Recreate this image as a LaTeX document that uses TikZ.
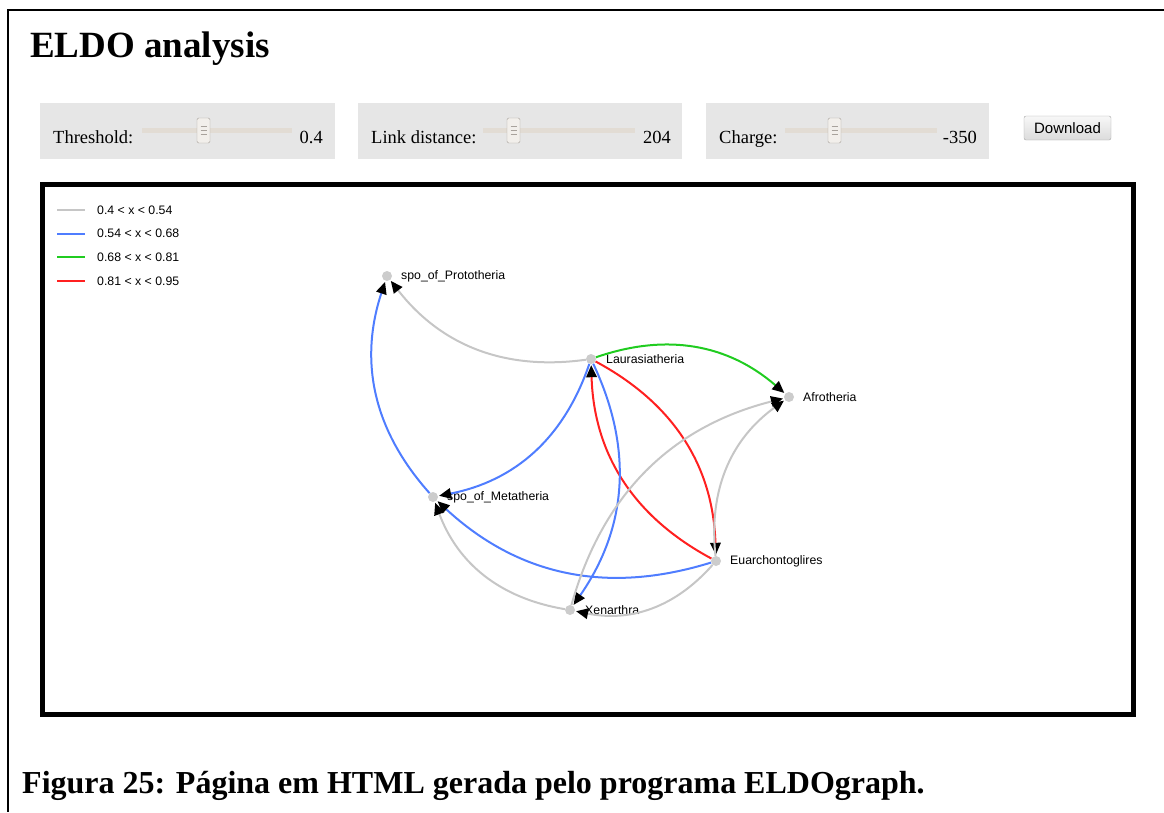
\documentclass[tikz,border=0pt]{standalone}
\usepackage{fontspec}
\setmainfont{Liberation Serif}
\newfontfamily\webfont{Liberation Sans}
\usetikzlibrary{arrows.meta}

\definecolor{lowgray}{HTML}{C6C6C6}
\definecolor{midblue}{HTML}{4F7DFF}
\definecolor{highgreen}{HTML}{20CC20}
\definecolor{topred}{HTML}{FF2020}
\definecolor{panelgray}{HTML}{E6E6E6}
\definecolor{trackbeige}{HTML}{E2DCD4}
\definecolor{thumbfill}{HTML}{F2EFEB}
\definecolor{thumbedge}{HTML}{A8A29C}
\definecolor{dotgray}{HTML}{CCCCCC}

\begin{document}
\begin{tikzpicture}[x=1pt,y=1pt,
    taxon/.style={circle,fill=dotgray,inner sep=0pt,minimum size=10pt},
    taxlabel/.style={anchor=west,inner sep=0pt,font=\webfont\fontsize{12.3}{14}\selectfont},
    relation/.style={line width=2pt,-{Triangle[length=12pt,width=10.5pt,color=black,fill=black]},shorten >=1pt,bend left=30}]
    \useasboundingbox (0,0) rectangle (1164,-812);

    % Page frame and heading:
    \draw [line width=2pt] (1164,-10) -- (8,-10) -- (8,-812);
    \node (title) [anchor=base west,inner sep=0pt,font=\bfseries\fontsize{37}{40}\selectfont] at (30,-57) {ELDO analysis};

    % Sliders:
    % box left/right, label, track left/right, thumb centre, value, value right edge
    \foreach \bl/\br/\lab/\tl/\tr/\th/\val/\vr [count=\i] in {40/335/Threshold:/142/292/203.5/0.4/323, 358/682/Link distance:/483/635/513.5/204/671, 706/989/Charge:/785/937/834.5/-350/977}{%
        \fill [panelgray] (\bl,-103) rectangle (\br,-159);
        \fill [trackbeige] (\tl,-127.5) rectangle (\tr,-132.5);
        \draw [thumbedge, fill=thumbfill, rounded corners=1.5pt] (\th-6.5,-118) rectangle (\th+6.5,-143);
        \foreach \g in {-126.5,-130.5,-134.5}
            \draw [thumbedge, line width=0.8pt] (\th-3,\g) -- (\th+3,\g);
        \node (lab\i) [anchor=base west,inner sep=0pt,font=\fontsize{18.5}{20}\selectfont] at (\bl+13,-143) {\lab};
        \node (val\i) [anchor=base east,inner sep=0pt,font=\fontsize{18.5}{20}\selectfont] at (\vr,-143) {\val};
    }
    \node (download) [draw=gray!70, rounded corners=2pt, top color=white!97!black, bottom color=white!86!black,
        minimum width=87pt, minimum height=24pt, inner sep=0pt, font=\webfont\fontsize{15}{17}\selectfont] at (1067.5,-128) {Download};

    % Graph area:
    \draw [line width=5pt] (42.5,-184.5) rectangle (1133.5,-714.5);

    % Legend:
    \foreach \col/\txt [count=\i] in {lowgray/0.4 < x < 0.54, midblue/0.54 < x < 0.68, highgreen/0.68 < x < 0.81, topred/0.81 < x < 0.95}{%
        \draw [\col, line width=2pt] (57,-186.5-23.6*\i) -- (85,-186.5-23.6*\i);
        \node (leg\i) [taxlabel] at (97,-186.5-23.6*\i) {\txt};
    }

    % Taxa:
    \node (proto)  [taxon] at (387,-276) {};
    \node (laura)  [taxon] at (591,-359) {};
    \node (afro)   [taxon] at (789,-397) {};
    \node (meta)   [taxon] at (433,-497) {};
    \node (euarch) [taxon] at (716,-561) {};
    \node (xen)    [taxon] at (570,-610) {};

    \node (lproto)  [taxlabel] at ([xshift=14pt]proto.center)  {spo\_of\_Prototheria};
    \node (llaura)  [taxlabel] at ([xshift=15pt]laura.center)  {Laurasiatheria};
    \node (lafro)   [taxlabel] at ([xshift=14pt]afro.center)   {Afrotheria};
    \node (lmeta)   [taxlabel] at ([xshift=14pt]meta.center)   {spo\_of\_Metatheria};
    \node (leuarch) [taxlabel] at ([xshift=14pt]euarch.center) {Euarchontoglires};
    \node (lxen)    [taxlabel] at ([xshift=15pt]xen.center)    {Xenarthra};

    % Links:
    % every link is an arc bending to its left, coloured by its value
    \draw [relation, lowgray]   (laura)  to (proto);
    \draw [relation, midblue]   (meta)   to (proto);
    \draw [relation, highgreen] (laura)  to (afro);
    \draw [relation, midblue]   (laura)  to (meta);
    \draw [relation, midblue]   (euarch) to (meta);
    \draw [relation, lowgray]   (xen)    to (meta);
    \draw [relation, topred]    (laura)  to (euarch);
    \draw [relation, topred]    (euarch) to (laura);
    \draw [relation, midblue]   (laura)  to (xen);
    \draw [relation, lowgray]   (xen)    to (afro);
    \draw [relation, lowgray]   (euarch) to (afro);
    \draw [relation, lowgray]   (euarch) to (xen);

    % Caption:
    \node (caption) [anchor=base west,inner sep=0pt,font=\bfseries\fontsize{32}{36}\selectfont] at (22,-793) {Figura 25: Página em HTML gerada pelo programa ELDOgraph.};
\end{tikzpicture}
\end{document}
